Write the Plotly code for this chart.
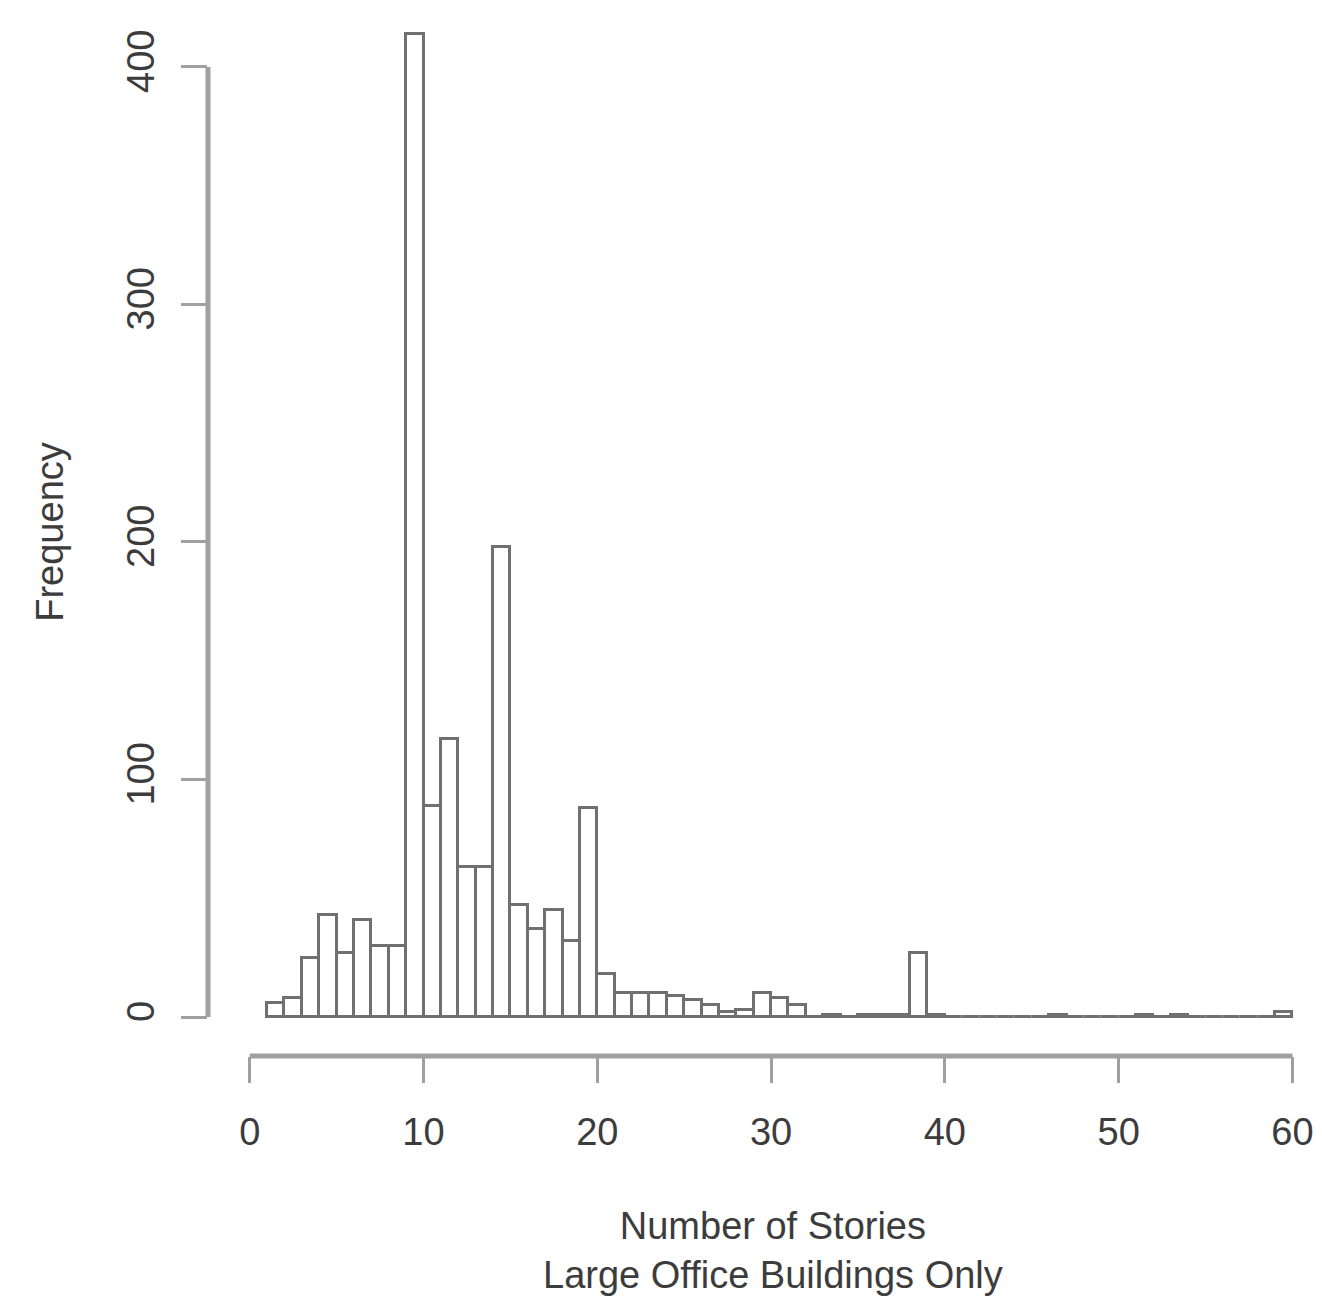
import plotly.graph_objects as go

# Histogram bins: left edges 1..59, width 1 (number of stories)
bin_left = list(range(1, 60))
counts = [6, 8, 25, 43, 27, 41, 30, 30, 414, 89,
          117, 63, 63, 198, 47, 37, 45, 32, 88, 18,
          10, 10, 10, 9, 7, 5, 2, 3, 10, 8,
          5, 0, 1, 0, 1, 1, 1, 27, 1, 0,
          0, 0, 0, 0, 0, 1, 0, 0, 0, 0,
          1, 0, 1, 0, 0, 0, 0, 0, 2]

x_ticks = [0, 10, 20, 30, 40, 50, 60]
y_ticks = [0, 100, 200, 300, 400]

x_title = "Number of Stories"
x_subtitle = "Large Office Buildings Only"
y_title = "Frequency"

FONT = "Liberation Sans, Arial, Helvetica, sans-serif"
LINE = "#707070"
AXIS = "#a0a0a0"
TEXT = "#3c3c3c"

centers = [b + 0.5 for b in bin_left]

fig = go.Figure()
fig.add_trace(go.Bar(
    x=centers, y=counts, width=1,
    marker=dict(color="white", line=dict(color=LINE, width=3)),
    showlegend=False,
))

W, H = 1314, 1292
left, bottom = 200, 244
plot_h = H - bottom
fig.update_layout(
    width=W, height=H,
    margin=dict(l=left, r=0, t=0, b=bottom),
    plot_bgcolor="white", paper_bgcolor="white",
    font=dict(family=FONT, size=38, color=TEXT),
    bargap=0,
    xaxis=dict(
        range=[-2.4, 61.7], tickvals=x_ticks, ticktext=[str(v) for v in x_ticks],
        ticks="outside", ticklen=26, tickwidth=3, tickcolor=AXIS,
        showgrid=False, zeroline=False, showline=False,
        tickfont=dict(size=38, color=TEXT), ticklabelstandoff=16,
    ),
    yaxis=dict(
        range=[-16.4, 424.8], tickvals=y_ticks, ticktext=[str(v) for v in y_ticks],
        ticks="outside", ticklen=26, tickwidth=3, tickcolor=AXIS,
        showgrid=False, zeroline=False, showline=False, tickangle=-90,
        tickfont=dict(size=38, color=TEXT), ticklabelstandoff=12,
        title=dict(text=y_title, font=dict(size=38, color=TEXT), standoff=44),
    ),
    shapes=[
        dict(type="line", xref="x", yref="paper", x0=min(x_ticks), x1=max(x_ticks), y0=0, y1=0,
             line=dict(color=AXIS, width=5)),
        dict(type="line", xref="paper", yref="y", x0=0, x1=0, y0=min(y_ticks), y1=max(y_ticks),
             line=dict(color=AXIS, width=5)),
    ],
    annotations=[
        dict(text=x_title + "<br>" + x_subtitle, xref="paper", yref="paper",
             x=(765 - left) / (W - left), y=-(1195 - plot_h) / plot_h,
             xanchor="center", yanchor="top", showarrow=False,
             font=dict(size=38, color=TEXT)),
    ],
)

fig.write_html("out.html")
